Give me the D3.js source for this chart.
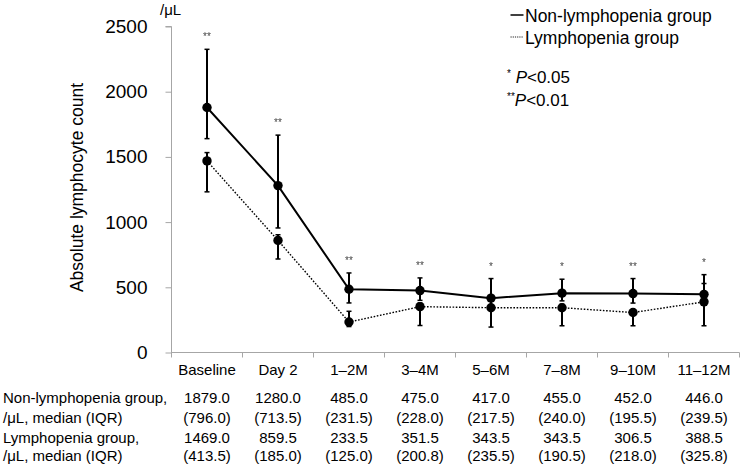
<!DOCTYPE html>
<html>
<head>
<meta charset="utf-8">
<script src="https://cdn.jsdelivr.net/npm/d3@7"></script>
<style>
  html, body { margin: 0; padding: 0; background: #fff; }
  svg { display: block; font-family: "Liberation Sans", Arial, sans-serif; }
</style>
</head>
<body>
<svg id="chart" width="752" height="464"></svg>
<script>
// ---- data ----
const categories = ["Baseline", "Day 2", "1\u20132M", "3\u20134M", "5\u20136M", "7\u20138M", "9\u201310M", "11\u201312M"];
const nonMedian = [1879, 1280, 485, 475, 417, 455, 452, 446];
const nonLow    = [1640, 955, 380, 400, 360, 396, 379, 400];
const nonHigh   = [2325, 1667, 610, 572, 567, 562, 567, 597];
const lymMedian = [1469, 859.5, 233.5, 351.5, 343.5, 343.5, 306.5, 388.5];
const lymLow    = [1232, 717, 199, 207, 195, 205, 205, 205];
const lymHigh   = [1533, 903, 316, 380, 360, 370, 330, 529];
const significance = ["**", "**", "**", "**", "*", "*", "**", "*"];
const yTicks = [0, 500, 1000, 1500, 2000, 2500];
const nonMedianText = ["1879.0", "1280.0", "485.0", "475.0", "417.0", "455.0", "452.0", "446.0"];
const nonIqrText    = ["(796.0)", "(713.5)", "(231.5)", "(228.0)", "(217.5)", "(240.0)", "(195.5)", "(239.5)"];
const lymMedianText = ["1469.0", "859.5", "233.5", "351.5", "343.5", "343.5", "306.5", "388.5"];
const lymIqrText    = ["(413.5)", "(185.0)", "(125.0)", "(200.8)", "(235.5)", "(190.5)", "(218.0)", "(325.8)"];
const rowLabels = ["Non-lymphopenia group,", "/\u03bcL, median (IQR)", "Lymphopenia group,", "/\u03bcL, median (IQR)"];
const seriesNames = ["Non-lymphopenia group", "Lymphopenia group"];

// ---- layout ----
const svg = d3.select("#chart");
const defs = svg.append("defs");
defs.append("filter").attr("id", "gray").append("feOffset").attr("dx", 0).attr("dy", 0);
const plotL = 171.5, plotR = 739.5, plotT = 26.5, plotB = 352.5;
const x = d3.scaleBand().domain(categories).range([plotL, plotR]).padding(0);
const y = d3.scaleLinear().domain([0, 2500]).range([plotB, plotT]);
const cx = c => x(c) + x.bandwidth() / 2;
const axisColor = "#a6a6a6";

// Y axis
const yAxis = svg.append("g").attr("transform", `translate(${plotL},0)`)
  .call(d3.axisLeft(y).tickValues(yTicks).tickSize(6).tickPadding(18).tickFormat(d3.format("d")));
yAxis.attr("font-size", 19).attr("font-family", "Liberation Sans, Arial, sans-serif");
yAxis.select(".domain").attr("stroke", axisColor).attr("d", `M-6,${plotT}H0V${plotB + 5}`);
yAxis.selectAll(".tick line").attr("stroke", axisColor);
yAxis.selectAll(".tick text").attr("fill", "#000");

// X axis
const xAxis = svg.append("g").attr("transform", `translate(0,${plotB})`)
  .call(d3.axisBottom(x).tickSize(0).tickPadding(12));
xAxis.attr("font-size", 15).attr("font-family", "Liberation Sans, Arial, sans-serif");
xAxis.select(".domain").attr("stroke", axisColor).attr("d", `M${plotL},0H${plotR}`);
xAxis.selectAll(".tick text").attr("fill", "#000");
const boundaries = categories.map(c => x(c)).concat([plotR]);
xAxis.selectAll(".btick").data(boundaries.slice(1)).enter().append("line")
  .attr("class", "btick").attr("x1", d => d).attr("x2", d => d)
  .attr("y1", 0).attr("y2", 5).attr("stroke", axisColor);

// Y title + unit
svg.append("text").attr("transform", `translate(83,187.5) rotate(-90)`)
  .attr("text-anchor", "middle").attr("font-size", 17.5).text("Absolute lymphocyte count");
svg.append("text").attr("x", 160).attr("y", 15).attr("font-size", 15).text("/\u03bcL");

// lines
const lineGen = d3.line().x((d, i) => cx(categories[i])).y(d => y(d));
svg.append("path").datum(lymMedian).attr("d", lineGen).attr("fill", "none")
  .attr("stroke", "#000").attr("stroke-width", 1.4).attr("stroke-dasharray", "1.6,1.6");
svg.append("path").datum(nonMedian).attr("d", lineGen).attr("fill", "none")
  .attr("stroke", "#000").attr("stroke-width", 2);

// error bars
function errBars(low, high) {
  const g = svg.append("g").attr("stroke", "#000").attr("stroke-width", 2);
  categories.forEach((c, i) => {
    const xc = cx(c);
    g.append("line").attr("x1", xc).attr("x2", xc).attr("y1", y(low[i])).attr("y2", y(high[i]));
    [low[i], high[i]].forEach(v => g.append("line").attr("stroke-width", 1.5)
      .attr("x1", xc - 2.5).attr("x2", xc + 2.5).attr("y1", y(v)).attr("y2", y(v)));
  });
}
errBars(lymLow, lymHigh);
errBars(nonLow, nonHigh);

// markers
[lymMedian, nonMedian].forEach(s => {
  svg.append("g").selectAll("circle").data(s).enter().append("circle")
    .attr("cx", (d, i) => cx(categories[i])).attr("cy", d => y(d)).attr("r", 4.7).attr("fill", "#000");
});

// significance stars
svg.append("g").attr("filter", "url(#gray)").selectAll("text").data(significance).enter().append("text")
  .attr("x", (d, i) => cx(categories[i])).attr("y", (d, i) => y(nonHigh[i]) - 9)
  .attr("text-anchor", "middle").attr("font-size", 10).attr("fill", "#444").text(d => d);

// legend
const lg = svg.append("g");
lg.append("line").attr("x1", 510.5).attr("x2", 523.5).attr("y1", 15).attr("y2", 15)
  .attr("stroke", "#000").attr("stroke-width", 1.5);
lg.append("line").attr("x1", 510.5).attr("x2", 523.5).attr("y1", 37).attr("y2", 37)
  .attr("stroke", "#222").attr("stroke-width", 1.2).attr("stroke-dasharray", "1.2,1");
lg.append("text").attr("x", 525).attr("y", 21.5).attr("font-size", 17.5).text(seriesNames[0]);
lg.append("text").attr("x", 525).attr("y", 43.5).attr("font-size", 17.5).text(seriesNames[1]);

const p1 = lg.append("text").attr("x", 507).attr("y", 83).attr("font-size", 17);
p1.append("tspan").attr("font-size", 10).attr("dy", -6).text("*");
p1.append("tspan").attr("dy", 6).attr("font-style", "italic").text("\u00a0P");
p1.append("tspan").text("<0.05");
const p2 = lg.append("text").attr("x", 507).attr("y", 106).attr("font-size", 17);
p2.append("tspan").attr("font-size", 10).attr("dy", -6).text("**");
p2.append("tspan").attr("dy", 6).attr("font-style", "italic").text("P");
p2.append("tspan").text("<0.01");

// table
const rowsY = [403, 423, 442.5, 460.5];
const rowTexts = [nonMedianText, nonIqrText, lymMedianText, lymIqrText];
const tg = svg.append("g").attr("font-size", 15);
rowLabels.forEach((t, r) => tg.append("text").attr("x", 3).attr("y", rowsY[r]).text(t));
rowTexts.forEach((arr, r) => {
  tg.append("g").selectAll("text").data(arr).enter().append("text")
    .attr("x", (d, i) => cx(categories[i])).attr("y", rowsY[r])
    .attr("text-anchor", "middle").text(d => d);
});
</script>
</body>
</html>
